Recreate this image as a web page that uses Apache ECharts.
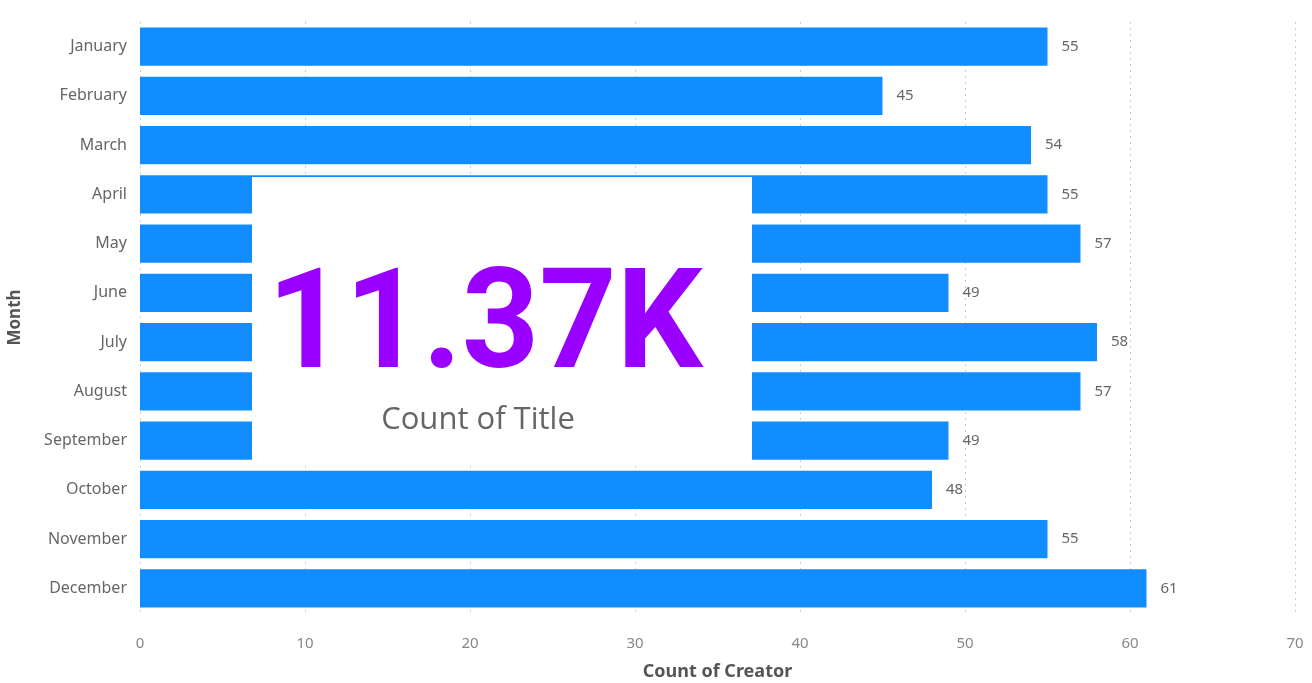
<!DOCTYPE html>
<html>
<head>
<meta charset="utf-8">
<script src="https://cdn.jsdelivr.net/npm/echarts@6/dist/echarts.min.js"></script>
<style>html,body{margin:0;padding:0;background:#fff;}#c{width:1312px;height:683px;}</style>
</head>
<body>
<div id="c"></div>
<script>
const months = ["January","February","March","April","May","June","July","August","September","October","November","December"];
const creatorCounts = [55,45,54,55,57,49,58,57,49,48,55,61];
const xTicks = [0,10,20,30,40,50,60,70];
const cardValue = "11.37K";
const cardLabel = "Count of Title";

const chart = echarts.init(document.getElementById('c'));
chart.setOption({
  animation: false,
  grid: {left: 140, right: 17, top: 22, bottom: 70, containLabel: false, outerBoundsMode: 'none'},
  xAxis: {
    type: 'value', min: xTicks[0], max: xTicks[xTicks.length - 1], interval: 10,
    name: 'Count of Creator', nameLocation: 'middle', nameGap: 50,
    nameTextStyle: {fontFamily: 'Noto Sans', fontSize: 18, fontWeight: 'bold', color: '#555'},
    axisLine: {show: false}, axisTick: {show: false},
    axisLabel: {fontFamily: 'Noto Sans', fontSize: 15, color: '#888', margin: 23},
    splitLine: {show: true, lineStyle: {type: [2, 4], color: '#ccc', width: 1}}
  },
  yAxis: {
    type: 'category', data: months, inverse: true,
    name: 'Month', nameLocation: 'middle', nameGap: 116,
    nameTextStyle: {fontFamily: 'Noto Sans', fontSize: 17, fontWeight: 'bold', color: '#555'},
    axisLine: {show: false}, axisTick: {show: false},
    axisLabel: {fontFamily: 'Noto Sans', fontSize: 16, color: '#666', margin: 13}
  },
  series: [{
    type: 'bar', data: creatorCounts, barCategoryGap: '22%',
    itemStyle: {color: '#118DFF'},
    label: {show: true, position: 'right', distance: 14, fontFamily: 'Noto Sans', fontSize: 15, color: '#666'}
  }],
  graphic: [
    {type: 'rect', left: 252, top: 177, shape: {width: 500, height: 285}, style: {fill: '#fff'}, z: 100},
    {type: 'text', x: 485, y: 332, z: 101, scaleX: 0.965,
      style: {text: cardValue, fontFamily: 'Roboto', fontWeight: 'bold', fontSize: 140, fill: '#9900FF', align: 'center', verticalAlign: 'middle'}},
    {type: 'text', x: 478, y: 420, z: 101,
      style: {text: cardLabel, fontFamily: 'Open Sans', fontSize: 31, fill: '#666', align: 'center', verticalAlign: 'middle'}}
  ]
});
</script>
</body>
</html>
